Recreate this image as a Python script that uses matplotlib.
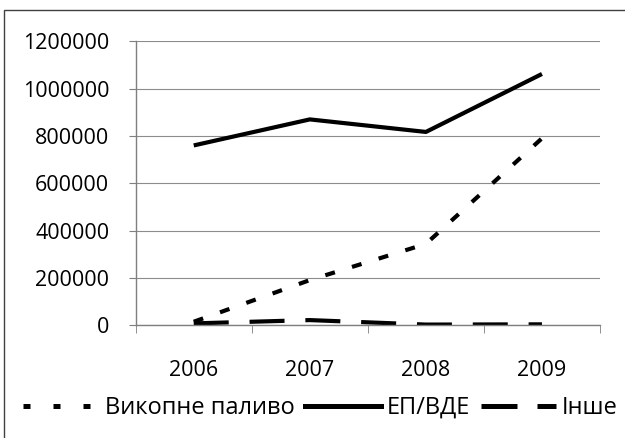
import matplotlib
matplotlib.use("Agg")
import matplotlib.pyplot as plt
from matplotlib.lines import Line2D
from matplotlib.patches import Rectangle

# ── data ──────────────────────────────────────────────────────────────────
years    = ["2006", "2007", "2008", "2009"]
fossil   = [15000, 191000, 344000, 790000]      # Викопне паливо
renew    = [760000, 870000, 817000, 1062000]    # ЕП/ВДЕ
other    = [8000, 22000, 3000, 4000]            # Інше
y_ticks  = [0, 200000, 400000, 600000, 800000, 1000000, 1200000]

plt.rcParams["font.family"] = ["Open Sans", "DejaVu Sans"]

W, H = 625, 438
fig = plt.figure(figsize=(W / 100, H / 100), dpi=100)
ax = fig.add_axes([135.7 / W, 1 - 325.3 / H, (600 - 135.7) / W, (325.3 - 41.3) / H])

x = list(range(len(years)))
lw = 3.0
ax.plot(x, fossil, color="black", linewidth=lw, dashes=(2.4, 4.3),
        label="Викопне паливо")
ax.plot(x, renew, color="black", linewidth=lw, solid_capstyle="butt",
        label="ЕП/ВДЕ")
ax.plot(x, other, color="black", linewidth=lw, dashes=(8.4, 5.0),
        label="Інше")

ax.set_xlim(-0.5, len(years) - 0.5)
ax.set_ylim(0, 1200000)
ax.set_yticks(y_ticks)
ax.set_yticklabels([str(v) for v in y_ticks])
ax.set_xticks(x)
ax.set_xticklabels(years)
ax.set_xticks([i - 0.5 for i in range(len(years) + 1)], minor=True)

ax.grid(axis="y", color="#8c8c8c", linewidth=0.8)
ax.set_axisbelow(True)
for s in ["top", "right"]:
    ax.spines[s].set_visible(False)
for s in ["left", "bottom"]:
    ax.spines[s].set_color("#7f7f7f")
    ax.spines[s].set_linewidth(1.0)

ax.tick_params(axis="y", length=5, color="#7f7f7f", labelsize=15.5, pad=14)
ax.tick_params(axis="x", which="major", length=0, labelsize=15.5, pad=25)
ax.tick_params(axis="x", which="minor", length=6, color="#7f7f7f")

# legend along the bottom
handles = [
    Line2D([], [], color="black", linewidth=3.6, dashes=(1.4, 4.6)),
    Line2D([], [], color="black", linewidth=3.6),
    Line2D([], [], color="black", linewidth=3.6, dashes=(7.2, 4.0)),
]
labels = ["Викопне паливо", "ЕП/ВДЕ", "Інше"]
fig.legend(handles, labels, loc="center", bbox_to_anchor=(0.513, 1 - 408 / H),
           ncol=3, frameon=False, fontsize=17, handlelength=3.2,
           handletextpad=0.25, columnspacing=0.45, borderpad=0,
           borderaxespad=0)

# outer chart border (only left and top visible in the crop)
fig.patches.append(Rectangle((4 / W, -0.1), 1.2, 1 - 10 / H + 0.1,
                             transform=fig.transFigure, fill=False,
                             edgecolor="#404040", linewidth=1.0))

fig.savefig("out.png", dpi=100)
